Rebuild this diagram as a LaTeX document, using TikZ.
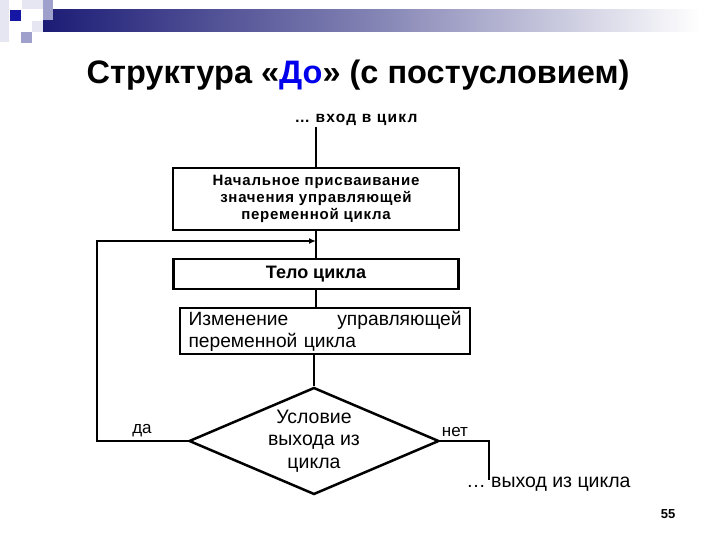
\documentclass[tikz,border=0pt]{standalone}
\usepackage{fontspec}
\setmainfont{Liberation Sans}
\usetikzlibrary{positioning,calc,arrows.meta,shapes.geometric}
\definecolor{barnavy}{RGB}{28,28,118}
\definecolor{palelav}{RGB}{230,230,242}
\definecolor{midlav}{RGB}{160,160,205}
\definecolor{darkblue}{RGB}{22,22,165}
\definecolor{titleblue}{RGB}{0,0,235}

\begin{document}
\begin{tikzpicture}[x=1pt,y=-1pt,line width=2.5pt]
  \tikzset{
    box/.style={draw,line width=2.2pt,inner sep=0pt,align=center},
    cond/.style={draw,line width=2.5pt,diamond,aspect=2.34,inner sep=0pt,
      minimum width=250pt,minimum height=107pt,align=center,
      font=\fontsize{19.5}{22.5}\selectfont},
    txt/.style={inner sep=0pt,font=\fontsize{17}{22}\selectfont}
  }
  \useasboundingbox[fill=white] (0,0) rectangle (720,540);
  % header decoration
  \fill[palelav] (0,0) rectangle (9,42);
  \fill[palelav] (22,0) rectangle (43,9);
  \fill[palelav] (32,21) rectangle (43,32);
  \shade[left color=barnavy,right color=white,middle color=barnavy!55!white] (43,10) rectangle (700,32);
  \fill[midlav] (43,0) rectangle (53,20);
  \fill[midlav] (21,32) rectangle (32,43);
  \fill[darkblue] (10,10) rectangle (21,21);
  % title
  \node[inner sep=0pt,font=\fontsize{32.5}{36}\bfseries] (title) at (358,75)
    {Структура «\textcolor{titleblue}{До}» (с постусловием)};
  % flowchart
  \node[inner sep=0pt,font=\fontsize{15.5}{18}\bfseries\addfontfeatures{LetterSpace=8}]
    (entry) at (356,120) {… вход в цикл};
  \node[box,minimum width=286pt,minimum height=62pt,
    font=\fontsize{15}{17}\bfseries\addfontfeatures{LetterSpace=5}]
    (init) at (316,199) {Начальное присваивание\\значения управляющей\\переменной цикла};
  \node[box,minimum width=285pt,minimum height=30pt,font=\fontsize{18}{20}\bfseries]
    (body) at (316,274) {Тело цикла};
  \node[box,text width=273pt,inner xsep=5pt,minimum width=290pt,minimum height=46pt,align=left,
    font=\fontsize{19.2}{22}\selectfont]
    (change) at (325,331) {Изменение\hfill управляющей\\переменной цикла};
  \node[cond] (check) at (314,441) {Условие\\выхода из\\цикла};
  \coordinate (back) at ($(init.south)!0.37!(body.north)$);
  \coordinate (out) at (489,480);
  \node[txt,anchor=south] (yes) at (142,438) {да};
  \node[txt,anchor=south] (no) at (455,438) {нет};
  \node[inner sep=0pt,anchor=west,font=\fontsize{19.5}{22}\selectfont]
    (exit) at (465,484) {… выход из цикла};
  \node[inner sep=0pt,font=\fontsize{13}{14}\bfseries] (page) at (668,514) {55};
  % connectors
  \draw (entry.south -| init.north) -- (init.north);
  \draw (init) -- (body);
  \draw (body.south) -- (body.south |- change.north);
  \draw (change.south -| check.north) -- (check.north);
  \draw[-{Latex[length=7pt,width=6pt]}] (check.west) -- ++(-91,0) |- (back);
  \draw (check.east) -| (out);
\end{tikzpicture}
\end{document}
